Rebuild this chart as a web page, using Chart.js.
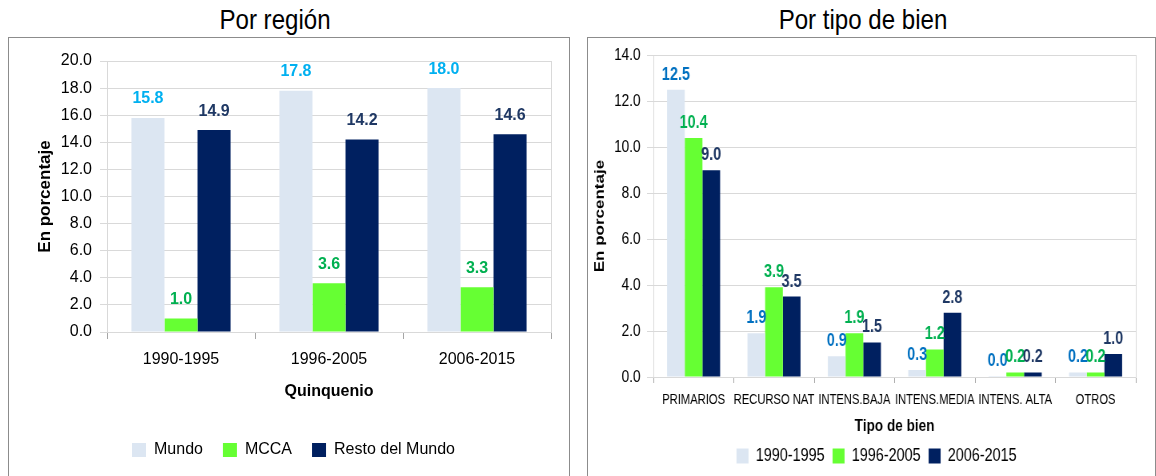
<!DOCTYPE html>
<html><head><meta charset="utf-8">
<script src="https://cdn.jsdelivr.net/npm/chart.js@4.4.0/dist/chart.umd.min.js"></script>
<style>
body{margin:0;background:#fff;width:1156px;height:476px;overflow:hidden;position:relative;}
.title{position:absolute;top:4px;height:32px;line-height:32px;font-family:'Liberation Sans',Arial,sans-serif;font-size:28px;color:#000;text-align:center;white-space:nowrap;transform:scaleX(0.86);transform-origin:center top;}
.box{position:absolute;top:37px;border:1px solid #8c8c8c;box-sizing:border-box;height:460px;}
canvas{position:absolute;top:37px;}
</style></head>
<body>
<div class="title" style="left:155px;width:240px;">Por región</div>
<div class="title" style="left:743px;width:240px;">Por tipo de bien</div>
<div class="box" style="left:8px;width:562px;"></div>
<div class="box" style="left:587px;width:569px;"></div>
<canvas id="c1" width="561" height="439" style="left:8px;width:561px;height:439px;"></canvas>
<canvas id="c2" width="710" height="439" style="left:587px;width:710px;height:439px;transform:scaleX(0.8);transform-origin:left top;"></canvas>
<script>
// ---- Data: Por región ----
const regionCategories = ['1990-1995', '1996-2005', '2006-2015'];
const regionSeriesNames = ['Mundo', 'MCCA', 'Resto del Mundo'];
const mundo = [15.8, 17.8, 18.0];
const mcca = [1.0, 3.6, 3.3];
const restoMundo = [14.9, 14.2, 14.6];
const regionYMax = 20;
const regionYStep = 2;

// ---- Data: Por tipo de bien ----
const bienCategories = ['PRIMARIOS', 'RECURSO NAT', 'INTENS.BAJA', 'INTENS.MEDIA', 'INTENS. ALTA', 'OTROS'];
const bienSeriesNames = ['1990-1995', '1996-2005', '2006-2015'];
const bien1990 = [12.5, 1.9, 0.9, 0.3, 0.04, 0.2];
const bien1996 = [10.4, 3.9, 1.9, 1.2, 0.2, 0.2];
const bien2006 = [9.0, 3.5, 1.5, 2.8, 0.2, 1.0];
const bienYMax = 14;
const bienYStep = 2;

Chart.defaults.devicePixelRatio = 1;

const valueLabels = {
  id: 'valueLabels',
  afterDatasetsDraw(chart, args, opts) {
    const ctx = chart.ctx;
    ctx.save();
    ctx.font = opts.font;
    ctx.textAlign = 'center';
    ctx.textBaseline = 'middle';
    chart.data.datasets.forEach((ds, di) => {
      const meta = chart.getDatasetMeta(di);
      ctx.fillStyle = ds.labelColor;
      meta.data.forEach((bar, i) => {
        ctx.fillText(Number(ds.data[i]).toFixed(1), bar.x, bar.y - opts.offset);
      });
    });
    ctx.restore();
  }
};
const plotBorder = {
  id: 'plotBorder',
  beforeDatasetsDraw(chart, args, opts) {
    const a = chart.chartArea, ctx = chart.ctx;
    ctx.save();
    ctx.strokeStyle = opts.color;
    ctx.lineWidth = 1;
    ctx.strokeRect(Math.round(a.left) + 0.5, Math.round(a.top) + 0.5, Math.round(a.right - a.left), Math.round(a.bottom - a.top));
    ctx.restore();
  }
};
const legendShift = {
  id: 'legendShift',
  afterLayout(chart, args, opts) {
    const l = chart.legend;
    if (l && opts.dx) { l.left += opts.dx; l.right += opts.dx; }
  }
};

const C_LIGHT = '#DCE6F2', C_GREEN = '#66FF33', C_NAVY = '#002060';
const fLeft = "'Liberation Sans', Arial, sans-serif";

new Chart(document.getElementById('c1'), {
  type: 'bar',
  data: {
    labels: regionCategories,
    datasets: [
      {label: regionSeriesNames[0], data: mundo, backgroundColor: C_LIGHT, labelColor: '#00B0F0'},
      {label: regionSeriesNames[1], data: mcca, backgroundColor: C_GREEN, labelColor: '#00B050'},
      {label: regionSeriesNames[2], data: restoMundo, backgroundColor: C_NAVY, labelColor: '#1F3864'}
    ]
  },
  options: {
    responsive: false, animation: false,
    categoryPercentage: 0.67, barPercentage: 1.0,
    layout: {padding: {top: 24, right: 18, bottom: 8, left: 0}},
    scales: {
      x: {
        grid: {drawOnChartArea: false, drawTicks: true, tickLength: 7, color: '#A6A6A6'},
        border: {color: '#A6A6A6'},
        ticks: {padding: 11, color: '#000', font: {family: fLeft, size: 16}, maxRotation: 0},
        title: {display: true, text: 'Quinquenio', color: '#000', font: {family: fLeft, size: 16, weight: 'bold'}, padding: {top: 0, bottom: 21}},
        afterFit(s) { s.height = 90; }
      },
      y: {
        min: 0, max: regionYMax,
        grid: {color: '#D9D9D9', tickLength: 7, drawTicks: true},
        border: {color: '#BFBFBF'},
        ticks: {stepSize: regionYStep, padding: 8, color: '#000', font: {family: fLeft, size: 16}, callback: v => v.toFixed(1)},
        title: {display: true, text: 'En porcentaje', color: '#000', font: {family: fLeft, size: 17, weight: 'bold'}, padding: {top: 27, bottom: 0}},
        afterFit(s) { s.width = 99; }
      }
    },
    plugins: {
      legend: {position: 'bottom', labels: {boxWidth: 14, boxHeight: 14, padding: 20, color: '#000', font: {family: fLeft, size: 16}}},
      tooltip: {enabled: false},
      valueLabels: {font: "bold 16px " + fLeft, offset: 19},
      plotBorder: {color: '#D9D9D9'},
      legendShift: {dx: 14}
    }
  },
  plugins: [valueLabels, plotBorder, legendShift]
});

new Chart(document.getElementById('c2'), {
  type: 'bar',
  data: {
    labels: bienCategories,
    datasets: [
      {label: bienSeriesNames[0], data: bien1990, backgroundColor: C_LIGHT, labelColor: '#0070C0'},
      {label: bienSeriesNames[1], data: bien1996, backgroundColor: C_GREEN, labelColor: '#00B050'},
      {label: bienSeriesNames[2], data: bien2006, backgroundColor: C_NAVY, labelColor: '#1F3864'}
    ]
  },
  options: {
    responsive: false, animation: false,
    categoryPercentage: 0.66, barPercentage: 1.0,
    layout: {padding: {top: 13, right: 24, bottom: 1, left: 0}},
    scales: {
      x: {
        grid: {drawOnChartArea: false, drawTicks: true, tickLength: 6, color: '#A6A6A6'},
        border: {color: '#A6A6A6'},
        ticks: {padding: 9, color: '#000', font: {family: fLeft, size: 14}, maxRotation: 0, autoSkip: false},
        title: {display: true, text: 'Tipo de bien', color: '#000', font: {family: fLeft, size: 17, weight: 'bold'}, padding: {top: 0, bottom: 0}},
        afterFit(s) { s.height = 60; }
      },
      y: {
        min: 0, max: bienYMax,
        grid: {color: '#D9D9D9', tickLength: 8, drawTicks: true},
        border: {color: '#BFBFBF'},
        ticks: {stepSize: bienYStep, padding: 8, color: '#000', font: {family: fLeft, size: 17}, callback: v => v.toFixed(1)},
        title: {display: true, text: 'En porcentaje', color: '#000', font: {family: fLeft, size: 17, weight: 'bold'}, padding: {top: 6, bottom: 0}},
        afterFit(s) { s.width = 83; }
      }
    },
    plugins: {
      legend: {position: 'bottom', labels: {boxWidth: 15, boxHeight: 15, padding: 10, color: '#000', font: {family: fLeft, size: 18}}},
      tooltip: {enabled: false},
      valueLabels: {font: "bold 18px " + fLeft, offset: 15},
      plotBorder: {color: '#D9D9D9'},
      legendShift: {dx: 19}
    }
  },
  plugins: [valueLabels, plotBorder, legendShift]
});
</script>
</body></html>
